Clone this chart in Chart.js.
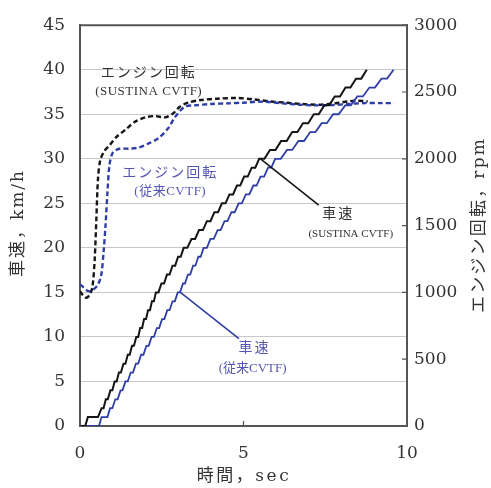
<!DOCTYPE html>
<html lang="ja">
<head>
<meta charset="UTF-8" />
<title>車速とエンジン回転</title>
<script src="https://cdn.jsdelivr.net/npm/chart.js"></script>
<style>
  html, body { margin: 0; padding: 0; background: #fff; }
  #c { display: block; }
</style>
</head>
<body>
<canvas id="c" width="491" height="488"></canvas>
<script>
// 車速 (km/h) SUSTINA CVTF — 階段状の波形を読み取った点
const sustinaSpeedTime = [0, 0.16, 0.24, 0.55, 0.66, 0.72, 0.79, 0.85, 0.93, 0.99, 1.06, 1.12, 1.19, 1.25,
  1.33, 1.39, 1.46, 1.52, 1.59, 1.65, 1.72, 1.78, 1.84, 1.9, 1.96, 2.02, 2.08, 2.14, 2.2, 2.26,
  2.32, 2.4, 2.49, 2.57, 2.66, 2.74, 2.83, 2.91, 3.0, 3.08, 3.17, 3.28, 3.41, 3.52, 3.64, 3.76,
  3.88, 3.99, 4.11, 4.22, 4.34, 4.45, 4.57, 4.68, 4.8, 4.9, 5.02, 5.13, 5.25, 5.36, 5.48, 5.64,
  5.81, 5.98, 6.15, 6.32, 6.49, 6.65, 6.82, 6.98, 7.15, 7.3, 7.47, 7.62, 7.79, 7.95, 8.12, 8.27,
  8.44, 8.6, 8.77];
const sustinaSpeed = [0, 0, 1, 1, 2, 2, 3, 3, 4, 4, 5, 5, 6, 6, 7, 7, 8, 8, 9, 9, 10, 10, 11, 11, 12, 12,
  13, 13, 14, 14, 15, 15, 16, 16, 17, 17, 18, 18, 19, 19, 20, 20, 21, 21, 22, 22, 23, 23, 24, 24,
  25, 25, 26, 26, 27, 27, 28, 28, 29, 29, 30, 30, 31, 31, 32, 32, 33, 33, 34, 34, 35, 35, 36, 36,
  37, 37, 38, 38, 39, 39, 40];

// 車速 (km/h) 従来CVTF
const conventionalSpeedTime = [0, 0.58, 0.66, 0.84, 0.92, 0.99, 1.08, 1.15, 1.24, 1.3, 1.39, 1.46, 1.55, 1.62,
  1.71, 1.78, 1.87, 1.94, 2.03, 2.1, 2.19, 2.26, 2.35, 2.42, 2.51, 2.58, 2.67, 2.74, 2.83, 2.9,
  2.99, 3.06, 3.15, 3.21, 3.3, 3.37, 3.46, 3.53, 3.62, 3.69, 3.78, 3.88, 3.99, 4.09, 4.21, 4.3,
  4.42, 4.51, 4.63, 4.73, 4.85, 4.95, 5.07, 5.18, 5.3, 5.4, 5.52, 5.63, 5.75, 5.85, 5.97, 6.14,
  6.33, 6.49, 6.68, 6.85, 7.04, 7.2, 7.39, 7.55, 7.74, 7.91, 8.11, 8.28, 8.48, 8.65, 8.85, 9.02,
  9.22, 9.39, 9.59];
const conventionalSpeed = [0, 0, 1, 1, 2, 2, 3, 3, 4, 4, 5, 5, 6, 6, 7, 7, 8, 8, 9, 9, 10, 10, 11, 11, 12, 12,
  13, 13, 14, 14, 15, 15, 16, 16, 17, 17, 18, 18, 19, 19, 20, 20, 21, 21, 22, 22, 23, 23, 24, 24,
  25, 25, 26, 26, 27, 27, 28, 28, 29, 29, 30, 30, 31, 31, 32, 32, 33, 33, 34, 34, 35, 35, 36, 36,
  37, 37, 38, 38, 39, 39, 40];

// エンジン回転 (rpm) SUSTINA CVTF
const sustinaRpmTime = [0, 0.1, 0.2, 0.3, 0.38, 0.45, 0.5, 0.55, 0.62, 0.75, 0.9, 1.1, 1.4, 1.7, 2.0, 2.3, 2.6,
  2.85, 3.05, 3.3, 3.7, 4.2, 4.8, 5.3, 5.8, 6.3, 6.8, 7.3, 7.8, 8.2, 8.5, 8.8];
const sustinaRpm = [1010, 975, 960, 985, 1040, 1250, 1550, 1850, 1990, 2060, 2100, 2160, 2220, 2280, 2310, 2320, 2310,
  2340, 2390, 2420, 2440, 2450, 2455, 2445, 2430, 2420, 2410, 2405, 2415, 2430, 2435, 2430];

// エンジン回転 (rpm) 従来CVTF
const conventionalRpmTime = [0, 0.12, 0.25, 0.4, 0.55, 0.65, 0.72, 0.78, 0.84, 0.9, 1.0, 1.2, 1.5, 1.8, 2.1, 2.4,
  2.7, 2.9, 3.2, 3.5, 4.0, 4.5, 5.0, 5.6, 6.2, 6.7, 7.2, 7.7, 8.2, 8.7, 9.2, 9.6];
const conventionalRpm = [1060, 1035, 1010, 1020, 1060, 1130, 1300, 1500, 1750, 1950, 2045, 2075, 2075, 2085, 2115, 2155,
  2230, 2310, 2390, 2400, 2410, 2415, 2420, 2428, 2415, 2405, 2400, 2402, 2410, 2417, 2417, 2417];

const xTicks = [0, 5, 10];
const speedTicks = [0, 5, 10, 15, 20, 25, 30, 35, 40, 45];
const rpmTicks = [0, 500, 1000, 1500, 2000, 2500, 3000];

const BLACK = '#151515';
const BLUE = '#2f3ea6';
const BLUE_TEXT = '#5656b4';
const AXIS = '#555';
const JP = '"DejaVu Serif", "Noto Sans CJK JP"';
const LABEL = '"Liberation Serif", "Noto Sans CJK JP"';

function pts(ts, vs) {
  return ts.map((t, i) => ({ x: t, y: vs[i] }));
}

// 注記・枠・軸タイトル
const overlay = {
  id: 'overlay',
  afterDraw(chart) {
    const { ctx, chartArea: a, scales: { x, y, y1 } } = chart;
    ctx.save();

    // 上枠
    ctx.strokeStyle = AXIS;
    ctx.lineWidth = 2;
    ctx.beginPath();
    ctx.moveTo(a.left - 1, a.top);
    ctx.lineTo(a.right + 1, a.top);
    ctx.stroke();

    // 内向きの目盛り
    ctx.lineWidth = 1.2;
    ctx.beginPath();
    rpmTicks.forEach(v => {
      const py = y1.getPixelForValue(v);
      ctx.moveTo(a.right - 5, py);
      ctx.lineTo(a.right, py);
    });
    xTicks.forEach(v => {
      const px = x.getPixelForValue(v);
      ctx.moveTo(px, a.bottom - 5);
      ctx.lineTo(px, a.bottom);
    });
    ctx.stroke();

    // 引出線
    const leader = (t1, v1, t2, v2, color) => {
      ctx.strokeStyle = color;
      ctx.lineWidth = 1.6;
      ctx.beginPath();
      ctx.moveTo(x.getPixelForValue(t1), y.getPixelForValue(v1));
      ctx.lineTo(x.getPixelForValue(t2), y.getPixelForValue(v2));
      ctx.stroke();
    };
    leader(5.52, 30, 7.3, 24.8, BLACK);
    leader(3.07, 15, 4.86, 9.8, BLUE);

    // 注記テキスト
    const note = (text, t, v, color, size, spacing) => {
      ctx.fillStyle = color;
      ctx.font = size + 'px ' + LABEL;
      ctx.letterSpacing = (spacing || 0) + 'px';
      ctx.textAlign = 'center';
      ctx.textBaseline = 'middle';
      ctx.fillText(text, x.getPixelForValue(t), y.getPixelForValue(v));
    };
    note('エンジン回転', 2.1, 39.6, '#333', 14, 2);
    note('(SUSTINA CVTF)', 2.1, 37.6, '#333', 13, 0.5);
    note('エンジン回転', 2.76, 28.4, BLUE_TEXT, 14, 2);
    note('(従来CVTF)', 2.76, 26.3, BLUE_TEXT, 13, 0.5);
    note('車速', 7.9, 23.8, '#333', 14, 2);
    note('(SUSTINA CVTF)', 8.28, 21.6, '#333', 11, 0);
    note('車速', 5.34, 8.7, BLUE_TEXT, 14, 2);
    note('(従来CVTF)', 5.28, 6.45, BLUE_TEXT, 13, 0);

    // 軸タイトル
    ctx.fillStyle = '#333';
    ctx.font = '17px ' + JP;
    ctx.textAlign = 'center';
    ctx.textBaseline = 'middle';
    ctx.letterSpacing = '2.5px';
    ctx.fillText('時間，sec', 244, 477);

    ctx.letterSpacing = '2px';
    ctx.save();
    ctx.translate(19, 223);
    ctx.rotate(-Math.PI / 2);
    ctx.fillText('車速，km/h', 0, 0);
    ctx.restore();

    ctx.letterSpacing = '2.2px';
    ctx.save();
    ctx.translate(480, 225);
    ctx.rotate(-Math.PI / 2);
    ctx.fillText('エンジン回転，rpm', 0, 0);
    ctx.restore();

    ctx.restore();
  }
};

const tickFont = { family: '"DejaVu Serif"', size: 17 };

new Chart(document.getElementById('c'), {
  type: 'line',
  data: {
    datasets: [
      {
        label: '車速 (SUSTINA CVTF)',
        data: pts(sustinaSpeedTime, sustinaSpeed),
        yAxisID: 'y',
        borderColor: BLACK,
        borderWidth: 2,
        pointRadius: 0
      },
      {
        label: '車速 (従来CVTF)',
        data: pts(conventionalSpeedTime, conventionalSpeed),
        yAxisID: 'y',
        borderColor: BLUE,
        borderWidth: 1.8,
        pointRadius: 0
      },
      {
        label: 'エンジン回転 (従来CVTF)',
        data: pts(conventionalRpmTime, conventionalRpm),
        yAxisID: 'y1',
        borderColor: BLUE,
        borderWidth: 2.4,
        borderDash: [5, 3],
        tension: 0.3,
        pointRadius: 0
      },
      {
        label: 'エンジン回転 (SUSTINA CVTF)',
        data: pts(sustinaRpmTime, sustinaRpm),
        yAxisID: 'y1',
        borderColor: BLACK,
        borderWidth: 2.4,
        borderDash: [5, 3],
        tension: 0.3,
        pointRadius: 0
      }
    ]
  },
  options: {
    responsive: false,
    animation: false,
    events: [],
    layout: { padding: { top: 23 } },
    plugins: { legend: { display: false }, tooltip: { enabled: false } },
    scales: {
      x: {
        type: 'linear',
        min: 0,
        max: 10,
        afterBuildTicks: s => { s.ticks = xTicks.map(v => ({ value: v })); },
        ticks: { font: tickFont, color: '#333', padding: 9, maxRotation: 0, callback: v => String(v) },
        grid: { display: false },
        border: { color: AXIS, width: 2 },
        afterFit: s => { s.height = 62; }
      },
      y: {
        position: 'left',
        min: 0,
        max: 45,
        afterBuildTicks: s => { s.ticks = speedTicks.map(v => ({ value: v })); },
        ticks: { font: tickFont, color: '#333', padding: 15, callback: v => String(v) },
        grid: { color: '#c8c8c8', lineWidth: 1, drawTicks: false },
        border: { color: AXIS, width: 2 },
        afterFit: s => { s.width = 80; }
      },
      y1: {
        position: 'right',
        min: 0,
        max: 3000,
        afterBuildTicks: s => { s.ticks = rpmTicks.map(v => ({ value: v })); },
        ticks: { font: tickFont, color: '#333', padding: 7, callback: v => String(v) },
        grid: { drawOnChartArea: false, drawTicks: false },
        border: { color: AXIS, width: 2 },
        afterFit: s => { s.width = 84; }
      }
    }
  },
  plugins: [overlay]
});
</script>
</body>
</html>
